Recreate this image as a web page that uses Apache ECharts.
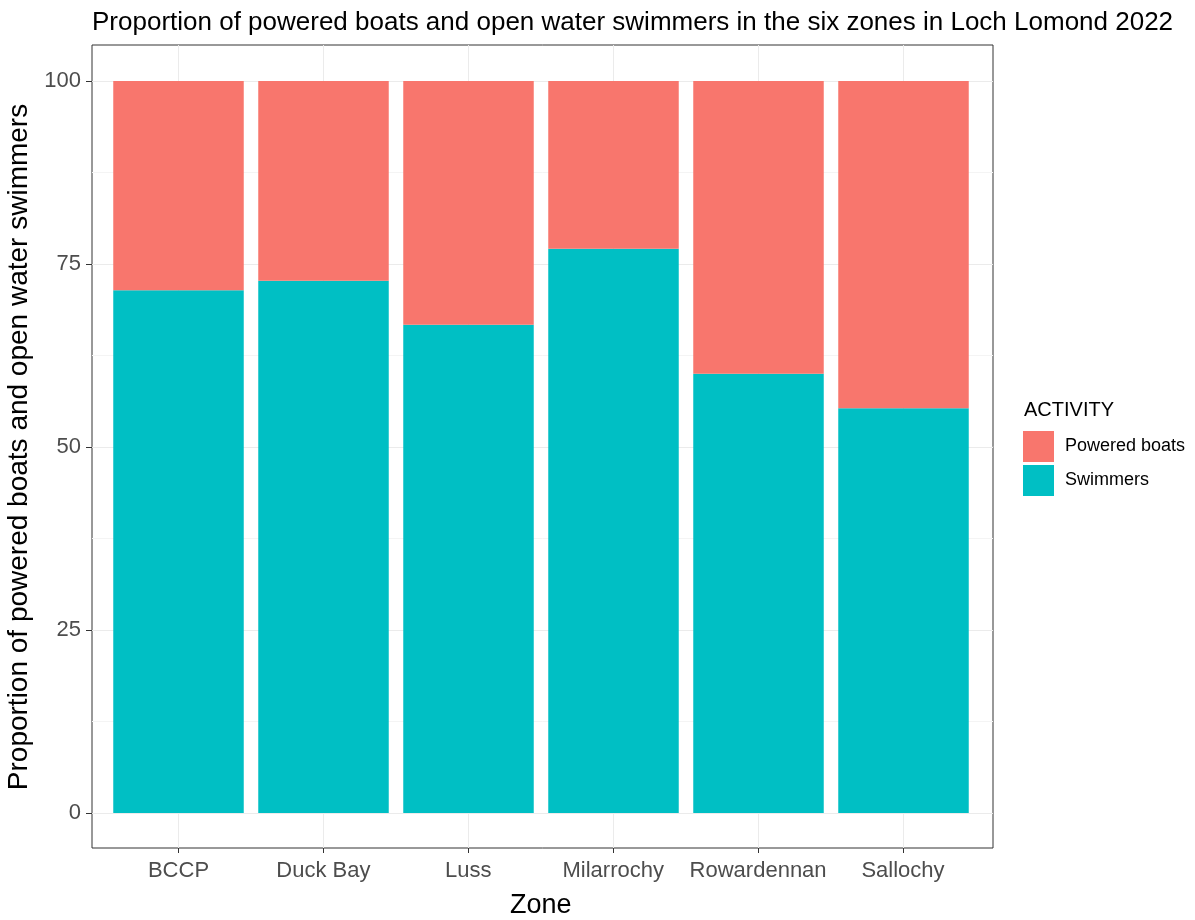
<!DOCTYPE html>
<html>
<head>
<meta charset="utf-8">
<title>Loch Lomond 2022</title>
<script src="https://cdn.jsdelivr.net/npm/echarts@6/dist/echarts.min.js"></script>
<style>
  html, body { margin: 0; padding: 0; background: #fff; }
  #main { width: 1195px; height: 920px; }
</style>
</head>
<body>
<div id="main"></div>
<script>
// zones on the x axis
var zones = ['BCCP', 'Duck Bay', 'Luss', 'Milarrochy', 'Rowardennan', 'Sallochy'];
// proportions (%)
var swimmers = [71.4, 72.7, 66.7, 77.1, 60.0, 55.3];
var poweredBoats = [28.6, 27.3, 33.3, 22.9, 40.0, 44.7];
var yTicks = [0, 25, 50, 75, 100];

var FONT = '"Liberation Sans", Arial, sans-serif';
var myChart = echarts.init(document.getElementById('main'));

// grid 0 = panel frame, grid 1 = y axis + horizontal lines,
// grid 2 = x axis + vertical lines, grid 3 = the bars
// outerBoundsMode none: keep grids where they are, don't shrink for labels
myChart.setOption({
  animation: false,
  textStyle: { fontFamily: FONT },
  title: [
    {
      text: 'Proportion of powered boats and open water swimmers in the six zones in Loch Lomond 2022',
      left: 87, top: 5,
      textStyle: { fontFamily: FONT, fontSize: 26, fontWeight: 'normal', color: '#000' }
    },
    {
      text: 'ACTIVITY',
      left: 1019, top: 395,
      textStyle: { fontFamily: FONT, fontSize: 20, fontWeight: 'normal', color: '#000' }
    }
  ],
  legend: {
    data: ['Powered boats', 'Swimmers'],
    orient: 'vertical',
    left: 1018, top: 426,
    itemWidth: 31, itemHeight: 31, itemGap: 3,
    icon: 'rect',
    textStyle: { fontFamily: FONT, fontSize: 18, color: '#000', padding: [0, 0, 0, 6] }
  },
  grid: [
    { left: 92, top: 45, width: 901, height: 803, outerBoundsMode: 'none', show: true, borderColor: '#333', borderWidth: 1, backgroundColor: '#fff' },
    { left: 92, top: 81, width: 901, height: 732, outerBoundsMode: 'none' },
    { left: 178.5, top: 45, width: 724.5, height: 803, outerBoundsMode: 'none' },
    { left: 106, top: 81, width: 870, height: 732, outerBoundsMode: 'none' }
  ],
  xAxis: [
    { gridIndex: 0, type: 'value', show: false },
    { gridIndex: 1, type: 'value', show: false },
    {
      gridIndex: 2, type: 'category', data: zones, boundaryGap: false,
      name: 'Zone', nameLocation: 'middle', nameGap: 44,
      nameTextStyle: { fontFamily: FONT, fontSize: 27, color: '#000' },
      axisLine: { show: false },
      axisTick: { show: true, interval: 0, length: 5, lineStyle: { color: '#333' } },
      axisLabel: { interval: 0, fontFamily: FONT, fontSize: 22, color: '#4d4d4d', margin: 12 },
      splitLine: { show: true, interval: 0, lineStyle: { color: '#ebebeb', width: 1 } }
    },
    { gridIndex: 3, type: 'category', data: zones, show: false }
  ],
  yAxis: [
    { gridIndex: 0, type: 'value', show: false },
    {
      gridIndex: 1, type: 'value', min: 0, max: 100, interval: 25,
      name: 'Proportion of powered boats and open water swimmers',
      nameLocation: 'middle', nameGap: 52, nameRotate: 90,
      nameTextStyle: { fontFamily: FONT, fontSize: 28, color: '#000' },
      axisLine: { show: false },
      axisTick: { show: true, length: 6, lineStyle: { color: '#333' } },
      axisLabel: {
        fontFamily: FONT, fontSize: 22, color: '#4d4d4d', margin: 11,
        formatter: function (v) { return yTicks.indexOf(v) >= 0 ? String(v) : ''; }
      },
      splitLine: { show: true, lineStyle: { color: '#ebebeb', width: 1.2 } },
      minorTick: { show: false, splitNumber: 2 },
      minorSplitLine: { show: true, lineStyle: { color: '#f4f4f4', width: 1 } }
    },
    { gridIndex: 2, type: 'value', show: false },
    { gridIndex: 3, type: 'value', min: 0, max: 100, show: false }
  ],
  series: [
    {
      name: 'Swimmers', type: 'bar', stack: 'zone',
      xAxisIndex: 3, yAxisIndex: 3,
      barWidth: '90%',
      itemStyle: { color: '#00BFC4' },
      data: swimmers
    },
    {
      name: 'Powered boats', type: 'bar', stack: 'zone',
      xAxisIndex: 3, yAxisIndex: 3,
      barWidth: '90%',
      itemStyle: { color: '#F8766D' },
      data: poweredBoats
    }
  ]
});
</script>
</body>
</html>
